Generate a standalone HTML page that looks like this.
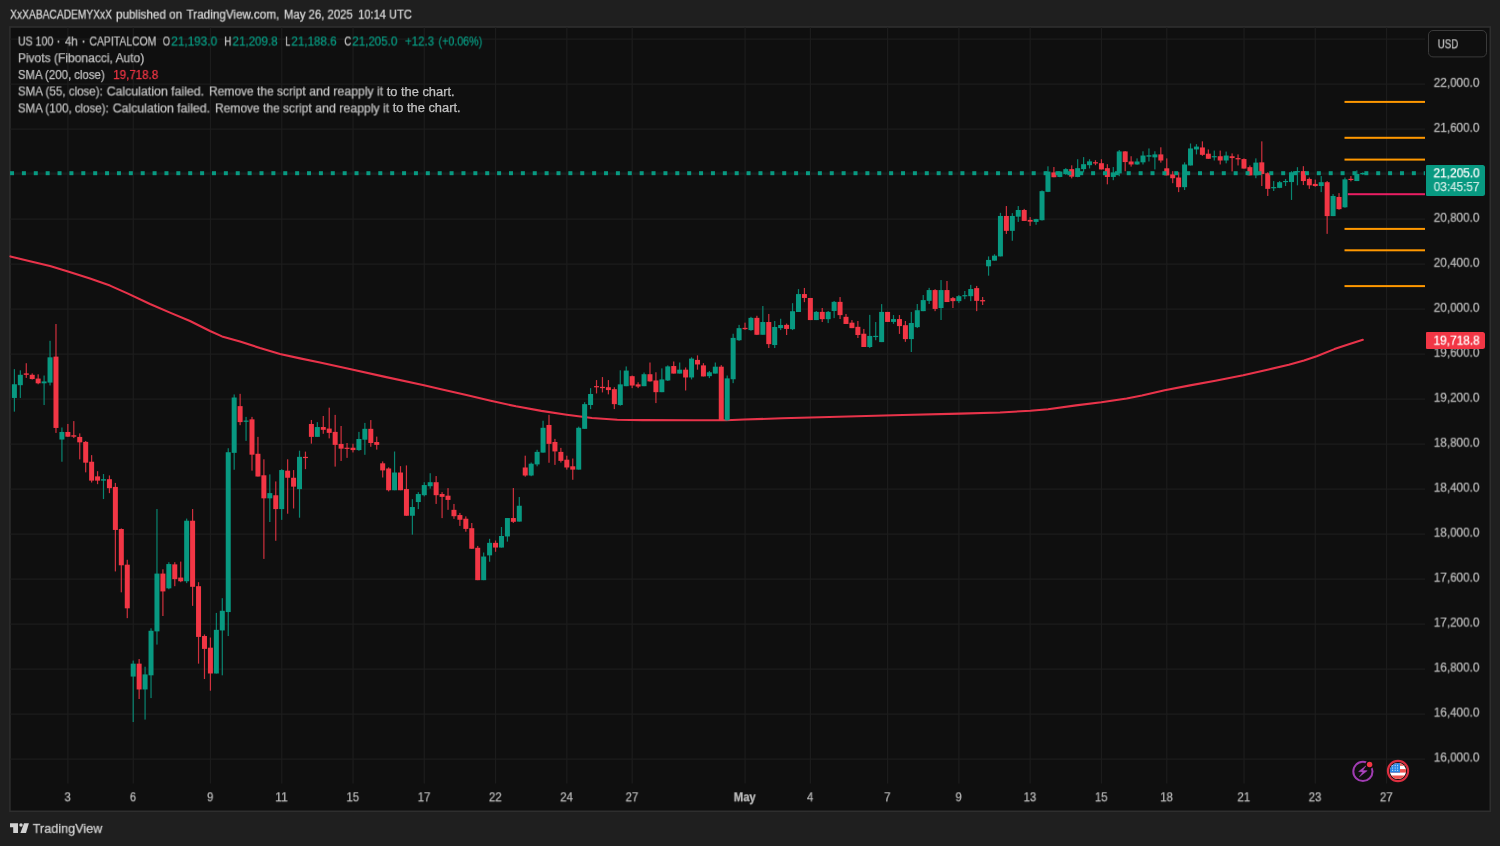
<!DOCTYPE html><html><head><meta charset="utf-8"><title>chart</title><style>
html,body{margin:0;padding:0}
body{width:1500px;height:846px;background:#1f1f1f;position:relative;overflow:hidden;font-family:"Liberation Sans",sans-serif;color:#c2c2c2;font-size:12.5px}
#txt{position:absolute;left:0;top:0;width:1500px;height:846px}
.t{position:absolute;white-space:nowrap;line-height:14px;height:14px;-webkit-text-stroke:0.25px;will-change:transform}
.g{color:#089981} .r{color:#f23645}
</style></head><body><svg width="1500" height="846" viewBox="0 0 1500 846" style="position:absolute;left:0;top:0">
<rect x="9.9" y="27.0" width="1480.3999999999999" height="784.3" fill="#0f0f0f" stroke="#2e2e2e" stroke-width="1.6"/>
<path d="M10.4 39.00H1425.0M10.4 84.00H1425.0M10.4 129.00H1425.0M10.4 174.00H1425.0M10.4 219.00H1425.0M10.4 264.00H1425.0M10.4 309.00H1425.0M10.4 354.00H1425.0M10.4 399.00H1425.0M10.4 444.00H1425.0M10.4 489.00H1425.0M10.4 534.00H1425.0M10.4 579.00H1425.0M10.4 624.00H1425.0M10.4 669.00H1425.0M10.4 714.00H1425.0M10.4 759.00H1425.0M67.90 27.5V783.5M133.24 27.5V783.5M210.46 27.5V783.5M281.74 27.5V783.5M353.02 27.5V783.5M424.30 27.5V783.5M495.58 27.5V783.5M566.86 27.5V783.5M632.20 27.5V783.5M745.06 27.5V783.5M810.40 27.5V783.5M887.62 27.5V783.5M958.90 27.5V783.5M1030.18 27.5V783.5M1101.46 27.5V783.5M1166.80 27.5V783.5M1244.02 27.5V783.5M1315.30 27.5V783.5M1386.58 27.5V783.5" stroke="#1c1c1c" stroke-width="1.25" fill="none"/>
<path d="M10.4 173.1H1425.0" stroke="#1c1c1c" stroke-width="1.2"/>
<rect x="1344.5" y="100.90" width="80.5" height="2" fill="#ff9800"/>
<rect x="1344.5" y="136.80" width="80.5" height="2" fill="#ff9800"/>
<rect x="1344.5" y="158.60" width="80.5" height="2" fill="#ff9800"/>
<rect x="1344.5" y="227.90" width="80.5" height="2" fill="#ff9800"/>
<rect x="1344.5" y="249.30" width="80.5" height="2" fill="#ff9800"/>
<rect x="1344.5" y="285.10" width="80.5" height="2" fill="#ff9800"/>
<rect x="1347.8" y="193.20" width="77.20000000000005" height="2" fill="#e91e63"/>
<polyline points="10.4,256.4 30.0,261.2 50.0,266.0 68.0,271.4 90.0,278.6 110.0,285.6 128.0,293.6 150.0,304.0 170.0,312.6 190.0,321.0 210.0,331.0 222.0,336.4 240.0,341.4 260.0,348.0 280.0,354.0 300.0,358.4 320.0,362.5 352.0,369.5 384.0,376.6 424.0,385.2 440.0,388.9 465.3,394.7 490.7,400.8 516.0,406.3 541.3,410.9 566.7,414.7 592.0,418.0 617.3,419.8 642.7,420.1 693.4,420.2 726.3,420.3 744.0,419.5 782.0,418.3 820.0,417.2 902.8,415.0 960.0,413.6 1000.0,412.5 1030.4,410.7 1048.1,409.2 1076.0,405.4 1101.3,402.3 1126.7,398.5 1141.9,395.5 1164.7,390.2 1190.0,385.4 1215.4,380.8 1243.2,375.2 1268.6,369.4 1288.8,364.8 1304.0,360.5 1316.7,356.2 1334.4,349.1 1349.6,344.1 1362.8,339.8" fill="none" stroke="#e8334a" stroke-width="2.1" stroke-linejoin="round" stroke-linecap="round"/>
<g fill="#089981" fill-opacity="0.85"><rect x="13.80" y="369.13" width="1.2" height="42.52"/><rect x="19.74" y="370.32" width="1.2" height="27.64"/><rect x="43.50" y="375.51" width="1.2" height="29.53"/><rect x="49.44" y="340.79" width="1.2" height="44.65"/><rect x="61.32" y="427.48" width="1.2" height="34.25"/><rect x="102.90" y="474.02" width="1.2" height="25.04"/><rect x="132.60" y="660.58" width="1.2" height="61.48"/><rect x="144.48" y="666.72" width="1.2" height="52.87"/><rect x="150.42" y="628.30" width="1.2" height="69.78"/><rect x="156.36" y="509.04" width="1.2" height="135.55"/><rect x="168.24" y="562.21" width="1.2" height="27.05"/><rect x="186.06" y="518.57" width="1.2" height="64.55"/><rect x="215.76" y="612.93" width="1.2" height="60.55"/><rect x="221.70" y="598.18" width="1.2" height="77.15"/><rect x="227.64" y="448.24" width="1.2" height="187.81"/><rect x="233.58" y="394.45" width="1.2" height="75.31"/><rect x="245.46" y="416.89" width="1.2" height="23.98"/><rect x="269.22" y="474.37" width="1.2" height="47.64"/><rect x="281.10" y="469.14" width="1.2" height="50.72"/><rect x="298.92" y="450.70" width="1.2" height="67.01"/><rect x="316.74" y="422.11" width="1.2" height="14.75"/><rect x="358.32" y="431.89" width="1.2" height="18.90"/><rect x="364.26" y="422.91" width="1.2" height="31.89"/><rect x="393.96" y="451.50" width="1.2" height="38.74"/><rect x="411.78" y="499.21" width="1.2" height="35.43"/><rect x="417.72" y="492.13" width="1.2" height="17.01"/><rect x="423.66" y="482.21" width="1.2" height="14.17"/><rect x="429.60" y="473.23" width="1.2" height="15.35"/><rect x="483.06" y="552.52" width="1.2" height="27.64"/><rect x="489.00" y="538.82" width="1.2" height="22.91"/><rect x="500.88" y="527.01" width="1.2" height="20.55"/><rect x="506.82" y="518.03" width="1.2" height="23.62"/><rect x="518.70" y="497.01" width="1.2" height="24.57"/><rect x="530.58" y="462.52" width="1.2" height="13.70"/><rect x="536.52" y="449.76" width="1.2" height="16.54"/><rect x="542.46" y="420.71" width="1.2" height="31.89"/><rect x="578.10" y="426.61" width="1.2" height="42.99"/><rect x="584.04" y="402.18" width="1.2" height="26.66"/><rect x="589.98" y="388.13" width="1.2" height="20.94"/><rect x="619.68" y="370.32" width="1.2" height="35.38"/><rect x="625.62" y="366.42" width="1.2" height="19.77"/><rect x="643.44" y="372.53" width="1.2" height="13.66"/><rect x="661.26" y="368.37" width="1.2" height="23.80"/><rect x="667.20" y="365.38" width="1.2" height="15.61"/><rect x="679.08" y="362.51" width="1.2" height="11.05"/><rect x="690.96" y="357.31" width="1.2" height="22.11"/><rect x="708.78" y="370.97" width="1.2" height="7.15"/><rect x="714.72" y="362.51" width="1.2" height="11.05"/><rect x="726.60" y="375.52" width="1.2" height="45.13"/><rect x="732.54" y="333.73" width="1.2" height="49.42"/><rect x="738.48" y="324.88" width="1.2" height="16.00"/><rect x="750.36" y="316.82" width="1.2" height="13.92"/><rect x="762.24" y="306.03" width="1.2" height="28.74"/><rect x="774.12" y="320.98" width="1.2" height="27.05"/><rect x="780.06" y="318.77" width="1.2" height="11.31"/><rect x="791.94" y="303.16" width="1.2" height="26.92"/><rect x="797.88" y="289.12" width="1.2" height="22.89"/><rect x="815.70" y="310.97" width="1.2" height="9.10"/><rect x="827.58" y="310.97" width="1.2" height="12.10"/><rect x="833.52" y="300.95" width="1.2" height="17.17"/><rect x="869.16" y="314.87" width="1.2" height="33.16"/><rect x="875.10" y="322.02" width="1.2" height="18.21"/><rect x="881.04" y="304.12" width="1.2" height="37.98"/><rect x="892.92" y="315.04" width="1.2" height="8.84"/><rect x="910.74" y="311.92" width="1.2" height="40.06"/><rect x="916.68" y="303.99" width="1.2" height="24.06"/><rect x="922.62" y="295.01" width="1.2" height="16.13"/><rect x="928.56" y="287.86" width="1.2" height="16.13"/><rect x="940.44" y="280.06" width="1.2" height="39.93"/><rect x="958.26" y="295.01" width="1.2" height="8.06"/><rect x="964.20" y="290.98" width="1.2" height="8.19"/><rect x="970.14" y="284.87" width="1.2" height="16.26"/><rect x="987.96" y="256.38" width="1.2" height="19.29"/><rect x="993.90" y="254.26" width="1.2" height="6.38"/><rect x="999.84" y="212.84" width="1.2" height="43.55"/><rect x="1011.72" y="213.12" width="1.2" height="27.66"/><rect x="1017.66" y="206.03" width="1.2" height="15.89"/><rect x="1035.48" y="218.79" width="1.2" height="5.96"/><rect x="1041.42" y="190.43" width="1.2" height="30.07"/><rect x="1047.36" y="166.31" width="1.2" height="25.82"/><rect x="1059.24" y="170.99" width="1.2" height="6.24"/><rect x="1065.18" y="168.16" width="1.2" height="6.67"/><rect x="1077.06" y="159.22" width="1.2" height="18.01"/><rect x="1083.00" y="157.09" width="1.2" height="15.32"/><rect x="1088.94" y="159.22" width="1.2" height="9.22"/><rect x="1112.70" y="167.02" width="1.2" height="13.19"/><rect x="1118.64" y="150.00" width="1.2" height="26.24"/><rect x="1136.46" y="158.37" width="1.2" height="6.38"/><rect x="1142.40" y="151.28" width="1.2" height="13.19"/><rect x="1148.34" y="148.44" width="1.2" height="13.05"/><rect x="1154.28" y="151.28" width="1.2" height="18.16"/><rect x="1183.98" y="162.34" width="1.2" height="27.66"/><rect x="1189.92" y="143.48" width="1.2" height="21.99"/><rect x="1195.86" y="144.18" width="1.2" height="10.21"/><rect x="1213.68" y="150.57" width="1.2" height="9.93"/><rect x="1225.56" y="151.56" width="1.2" height="11.77"/><rect x="1255.26" y="158.37" width="1.2" height="19.86"/><rect x="1273.08" y="181.06" width="1.2" height="9.93"/><rect x="1279.02" y="181.06" width="1.2" height="7.09"/><rect x="1284.96" y="178.94" width="1.2" height="7.09"/><rect x="1290.90" y="171.13" width="1.2" height="28.79"/><rect x="1296.84" y="167.16" width="1.2" height="18.16"/><rect x="1320.60" y="176.10" width="1.2" height="16.03"/><rect x="1332.48" y="194.11" width="1.2" height="21.99"/><rect x="1344.36" y="177.52" width="1.2" height="30.21"/><rect x="1356.24" y="170.43" width="1.2" height="10.64"/><rect x="1362.18" y="172.40" width="1.2" height="2.40"/></g><g fill="#f23645" fill-opacity="0.85"><rect x="25.68" y="363.23" width="1.2" height="14.65"/><rect x="31.62" y="373.39" width="1.2" height="6.14"/><rect x="37.56" y="374.33" width="1.2" height="9.92"/><rect x="55.38" y="324.02" width="1.2" height="108.90"/><rect x="67.26" y="423.94" width="1.2" height="12.99"/><rect x="73.20" y="421.10" width="1.2" height="17.01"/><rect x="79.14" y="433.39" width="1.2" height="25.98"/><rect x="85.08" y="440.95" width="1.2" height="31.42"/><rect x="91.02" y="455.12" width="1.2" height="27.40"/><rect x="96.96" y="471.18" width="1.2" height="12.99"/><rect x="108.84" y="475.43" width="1.2" height="17.72"/><rect x="114.78" y="482.91" width="1.2" height="88.53"/><rect x="120.72" y="528.40" width="1.2" height="63.94"/><rect x="126.66" y="559.76" width="1.2" height="58.40"/><rect x="138.54" y="659.04" width="1.2" height="39.96"/><rect x="162.30" y="569.28" width="1.2" height="46.72"/><rect x="174.18" y="562.21" width="1.2" height="23.98"/><rect x="180.12" y="561.60" width="1.2" height="20.59"/><rect x="192.00" y="509.04" width="1.2" height="96.82"/><rect x="197.94" y="582.19" width="1.2" height="81.46"/><rect x="203.88" y="634.45" width="1.2" height="44.57"/><rect x="209.82" y="637.52" width="1.2" height="53.18"/><rect x="239.52" y="393.83" width="1.2" height="31.35"/><rect x="251.40" y="416.89" width="1.2" height="53.79"/><rect x="257.34" y="436.87" width="1.2" height="39.65"/><rect x="263.28" y="459.30" width="1.2" height="99.59"/><rect x="275.16" y="481.44" width="1.2" height="59.32"/><rect x="287.04" y="459.30" width="1.2" height="54.41"/><rect x="292.98" y="470.06" width="1.2" height="38.42"/><rect x="304.86" y="451.62" width="1.2" height="17.52"/><rect x="310.80" y="419.96" width="1.2" height="23.67"/><rect x="322.68" y="415.96" width="1.2" height="17.83"/><rect x="328.62" y="407.66" width="1.2" height="30.74"/><rect x="334.56" y="414.88" width="1.2" height="51.73"/><rect x="340.50" y="425.98" width="1.2" height="34.96"/><rect x="346.44" y="442.99" width="1.2" height="14.88"/><rect x="352.38" y="443.70" width="1.2" height="8.74"/><rect x="370.20" y="420.08" width="1.2" height="26.69"/><rect x="376.14" y="436.61" width="1.2" height="12.99"/><rect x="382.08" y="461.42" width="1.2" height="16.06"/><rect x="388.02" y="467.32" width="1.2" height="24.09"/><rect x="399.90" y="466.14" width="1.2" height="24.09"/><rect x="405.84" y="465.43" width="1.2" height="50.32"/><rect x="435.54" y="476.06" width="1.2" height="27.87"/><rect x="441.48" y="492.13" width="1.2" height="25.98"/><rect x="447.42" y="488.11" width="1.2" height="21.73"/><rect x="453.36" y="503.94" width="1.2" height="14.88"/><rect x="459.30" y="512.91" width="1.2" height="12.99"/><rect x="465.24" y="516.38" width="1.2" height="15.35"/><rect x="471.18" y="522.99" width="1.2" height="25.75"/><rect x="477.12" y="545.91" width="1.2" height="34.25"/><rect x="494.94" y="540.47" width="1.2" height="11.34"/><rect x="512.76" y="488.03" width="1.2" height="34.96"/><rect x="524.64" y="455.67" width="1.2" height="21.02"/><rect x="548.40" y="414.80" width="1.2" height="47.95"/><rect x="554.34" y="438.90" width="1.2" height="25.98"/><rect x="560.28" y="447.87" width="1.2" height="14.65"/><rect x="566.22" y="455.67" width="1.2" height="13.94"/><rect x="572.16" y="458.50" width="1.2" height="21.26"/><rect x="595.92" y="380.07" width="1.2" height="13.40"/><rect x="601.86" y="377.08" width="1.2" height="15.35"/><rect x="607.80" y="380.07" width="1.2" height="14.31"/><rect x="613.74" y="387.22" width="1.2" height="21.85"/><rect x="631.56" y="375.52" width="1.2" height="12.62"/><rect x="637.50" y="382.28" width="1.2" height="5.85"/><rect x="649.38" y="362.51" width="1.2" height="19.12"/><rect x="655.32" y="372.27" width="1.2" height="30.82"/><rect x="673.14" y="361.47" width="1.2" height="12.10"/><rect x="685.02" y="367.46" width="1.2" height="23.02"/><rect x="696.90" y="355.36" width="1.2" height="14.31"/><rect x="702.84" y="363.16" width="1.2" height="13.27"/><rect x="720.66" y="365.12" width="1.2" height="55.27"/><rect x="744.42" y="322.67" width="1.2" height="7.15"/><rect x="756.30" y="315.78" width="1.2" height="19.25"/><rect x="768.18" y="313.96" width="1.2" height="34.07"/><rect x="786.00" y="323.58" width="1.2" height="11.44"/><rect x="803.82" y="287.95" width="1.2" height="14.18"/><rect x="809.76" y="297.96" width="1.2" height="22.11"/><rect x="821.64" y="307.98" width="1.2" height="14.05"/><rect x="839.46" y="297.05" width="1.2" height="21.98"/><rect x="845.40" y="313.96" width="1.2" height="10.01"/><rect x="851.34" y="320.07" width="1.2" height="8.06"/><rect x="857.28" y="320.98" width="1.2" height="17.04"/><rect x="863.22" y="328.92" width="1.2" height="18.08"/><rect x="886.98" y="311.92" width="1.2" height="10.01"/><rect x="898.86" y="315.04" width="1.2" height="18.86"/><rect x="904.80" y="321.02" width="1.2" height="20.81"/><rect x="934.50" y="289.16" width="1.2" height="21.98"/><rect x="946.38" y="280.97" width="1.2" height="21.07"/><rect x="952.32" y="296.96" width="1.2" height="11.05"/><rect x="976.08" y="285.91" width="1.2" height="25.23"/><rect x="982.02" y="296.96" width="1.2" height="8.06"/><rect x="1005.78" y="206.03" width="1.2" height="27.94"/><rect x="1023.60" y="208.87" width="1.2" height="12.06"/><rect x="1029.54" y="217.09" width="1.2" height="8.79"/><rect x="1053.30" y="167.02" width="1.2" height="10.21"/><rect x="1071.12" y="165.32" width="1.2" height="13.05"/><rect x="1094.88" y="160.21" width="1.2" height="4.96"/><rect x="1100.82" y="159.22" width="1.2" height="10.21"/><rect x="1106.76" y="164.18" width="1.2" height="20.14"/><rect x="1124.58" y="151.13" width="1.2" height="20.14"/><rect x="1130.52" y="156.24" width="1.2" height="10.35"/><rect x="1160.22" y="147.30" width="1.2" height="15.32"/><rect x="1166.16" y="158.37" width="1.2" height="17.02"/><rect x="1172.10" y="171.13" width="1.2" height="12.06"/><rect x="1178.04" y="172.27" width="1.2" height="19.86"/><rect x="1201.80" y="141.35" width="1.2" height="14.47"/><rect x="1207.74" y="149.43" width="1.2" height="9.36"/><rect x="1219.62" y="150.57" width="1.2" height="13.90"/><rect x="1231.50" y="153.40" width="1.2" height="18.01"/><rect x="1237.44" y="154.40" width="1.2" height="11.06"/><rect x="1243.38" y="158.37" width="1.2" height="10.21"/><rect x="1249.32" y="165.46" width="1.2" height="9.93"/><rect x="1261.20" y="141.35" width="1.2" height="44.68"/><rect x="1267.14" y="172.27" width="1.2" height="23.69"/><rect x="1302.78" y="166.17" width="1.2" height="18.87"/><rect x="1308.72" y="177.52" width="1.2" height="11.35"/><rect x="1314.66" y="179.65" width="1.2" height="7.09"/><rect x="1326.54" y="181.06" width="1.2" height="52.77"/><rect x="1338.42" y="193.12" width="1.2" height="16.60"/><rect x="1350.30" y="176.10" width="1.2" height="5.25"/></g>
<g fill="#089981"><rect x="11.90" y="384.25" width="5" height="13.70"/><rect x="17.84" y="374.80" width="5" height="10.39"/><rect x="41.60" y="381.42" width="5" height="1.89"/><rect x="47.54" y="357.32" width="5" height="25.28"/><rect x="59.42" y="431.97" width="5" height="7.56"/><rect x="101.00" y="479.21" width="5" height="1.42"/><rect x="130.70" y="663.65" width="5" height="12.91"/><rect x="142.58" y="674.41" width="5" height="15.06"/><rect x="148.52" y="630.76" width="5" height="44.57"/><rect x="154.46" y="573.59" width="5" height="57.79"/><rect x="166.34" y="564.06" width="5" height="24.28"/><rect x="184.16" y="520.72" width="5" height="60.55"/><rect x="213.86" y="629.84" width="5" height="43.65"/><rect x="219.80" y="610.78" width="5" height="19.67"/><rect x="225.74" y="452.23" width="5" height="159.84"/><rect x="231.68" y="397.52" width="5" height="55.33"/><rect x="243.56" y="420.57" width="5" height="1.23"/><rect x="267.32" y="493.12" width="5" height="5.23"/><rect x="279.20" y="470.06" width="5" height="39.04"/><rect x="297.02" y="456.85" width="5" height="32.27"/><rect x="314.84" y="427.03" width="5" height="9.84"/><rect x="356.42" y="438.98" width="5" height="11.10"/><rect x="362.36" y="428.82" width="5" height="10.87"/><rect x="392.06" y="472.52" width="5" height="17.72"/><rect x="409.88" y="507.01" width="5" height="8.74"/><rect x="415.82" y="494.02" width="5" height="8.03"/><rect x="421.76" y="485.04" width="5" height="10.16"/><rect x="427.70" y="482.21" width="5" height="4.02"/><rect x="481.16" y="556.54" width="5" height="23.62"/><rect x="487.10" y="542.84" width="5" height="12.52"/><rect x="498.98" y="535.99" width="5" height="11.57"/><rect x="504.92" y="518.03" width="5" height="18.43"/><rect x="516.80" y="505.75" width="5" height="15.83"/><rect x="528.68" y="463.70" width="5" height="11.81"/><rect x="534.62" y="451.89" width="5" height="12.52"/><rect x="540.56" y="427.80" width="5" height="24.80"/><rect x="576.20" y="427.80" width="5" height="41.81"/><rect x="582.14" y="404.13" width="5" height="24.71"/><rect x="588.08" y="393.99" width="5" height="11.05"/><rect x="617.78" y="384.36" width="5" height="20.68"/><rect x="623.72" y="370.58" width="5" height="15.61"/><rect x="641.54" y="374.22" width="5" height="11.97"/><rect x="659.36" y="379.42" width="5" height="12.75"/><rect x="665.30" y="366.42" width="5" height="14.05"/><rect x="677.18" y="369.67" width="5" height="3.90"/><rect x="689.06" y="358.61" width="5" height="18.86"/><rect x="706.88" y="372.27" width="5" height="3.90"/><rect x="712.82" y="366.68" width="5" height="6.89"/><rect x="724.70" y="378.38" width="5" height="42.01"/><rect x="730.64" y="337.89" width="5" height="41.36"/><rect x="736.58" y="328.13" width="5" height="12.10"/><rect x="748.46" y="317.86" width="5" height="12.23"/><rect x="760.34" y="322.02" width="5" height="12.75"/><rect x="772.22" y="326.96" width="5" height="18.08"/><rect x="778.16" y="325.01" width="5" height="3.12"/><rect x="790.04" y="311.23" width="5" height="17.95"/><rect x="795.98" y="294.06" width="5" height="17.95"/><rect x="813.80" y="311.88" width="5" height="8.19"/><rect x="825.68" y="311.88" width="5" height="7.28"/><rect x="831.62" y="301.86" width="5" height="9.10"/><rect x="867.26" y="335.94" width="5" height="11.05"/><rect x="873.20" y="335.86" width="5" height="1.20"/><rect x="879.14" y="311.92" width="5" height="30.17"/><rect x="891.02" y="319.07" width="5" height="2.86"/><rect x="908.84" y="322.98" width="5" height="16.13"/><rect x="914.78" y="310.23" width="5" height="16.91"/><rect x="920.72" y="300.09" width="5" height="11.05"/><rect x="926.66" y="290.07" width="5" height="10.79"/><rect x="938.54" y="290.07" width="5" height="17.95"/><rect x="956.36" y="296.18" width="5" height="4.94"/><rect x="962.30" y="295.13" width="5" height="1.20"/><rect x="968.24" y="289.03" width="5" height="7.15"/><rect x="986.06" y="259.93" width="5" height="6.38"/><rect x="992.00" y="255.67" width="5" height="4.96"/><rect x="997.94" y="215.96" width="5" height="40.43"/><rect x="1009.82" y="215.96" width="5" height="14.89"/><rect x="1015.76" y="210.00" width="5" height="6.67"/><rect x="1033.58" y="219.08" width="5" height="2.84"/><rect x="1039.52" y="191.13" width="5" height="29.08"/><rect x="1045.46" y="171.56" width="5" height="20.28"/><rect x="1057.34" y="171.56" width="5" height="5.39"/><rect x="1063.28" y="169.15" width="5" height="4.96"/><rect x="1075.16" y="168.16" width="5" height="8.79"/><rect x="1081.10" y="164.18" width="5" height="4.96"/><rect x="1087.04" y="161.35" width="5" height="3.83"/><rect x="1110.80" y="172.41" width="5" height="4.54"/><rect x="1116.74" y="151.42" width="5" height="21.99"/><rect x="1134.56" y="161.49" width="5" height="2.98"/><rect x="1140.50" y="155.53" width="5" height="6.81"/><rect x="1146.44" y="155.25" width="5" height="1.42"/><rect x="1152.38" y="154.40" width="5" height="2.98"/><rect x="1182.08" y="164.47" width="5" height="22.70"/><rect x="1188.02" y="148.44" width="5" height="17.02"/><rect x="1193.96" y="146.60" width="5" height="2.84"/><rect x="1211.78" y="156.14" width="5" height="1.20"/><rect x="1223.66" y="155.53" width="5" height="4.96"/><rect x="1253.36" y="162.62" width="5" height="12.77"/><rect x="1271.18" y="187.06" width="5" height="1.20"/><rect x="1277.12" y="182.20" width="5" height="5.67"/><rect x="1283.06" y="180.96" width="5" height="1.20"/><rect x="1289.00" y="172.27" width="5" height="9.79"/><rect x="1294.94" y="171.10" width="5" height="1.20"/><rect x="1318.70" y="182.20" width="5" height="3.83"/><rect x="1330.58" y="195.96" width="5" height="20.14"/><rect x="1342.46" y="179.36" width="5" height="27.94"/><rect x="1354.34" y="173.97" width="5" height="7.09"/><rect x="1360.28" y="173.00" width="5" height="1.30"/></g><g fill="#f23645"><rect x="23.78" y="373.39" width="5" height="1.42"/><rect x="29.72" y="374.80" width="5" height="4.25"/><rect x="35.66" y="378.58" width="5" height="4.72"/><rect x="53.48" y="356.61" width="5" height="71.34"/><rect x="65.36" y="431.97" width="5" height="4.72"/><rect x="71.30" y="435.28" width="5" height="1.42"/><rect x="77.24" y="436.93" width="5" height="5.43"/><rect x="83.18" y="441.89" width="5" height="20.79"/><rect x="89.12" y="461.73" width="5" height="18.90"/><rect x="95.06" y="476.38" width="5" height="4.25"/><rect x="106.94" y="479.21" width="5" height="8.98"/><rect x="112.88" y="486.91" width="5" height="43.03"/><rect x="118.82" y="529.02" width="5" height="36.27"/><rect x="124.76" y="564.67" width="5" height="43.65"/><rect x="136.64" y="663.65" width="5" height="25.82"/><rect x="160.40" y="573.59" width="5" height="17.83"/><rect x="172.28" y="564.37" width="5" height="14.75"/><rect x="178.22" y="577.58" width="5" height="3.69"/><rect x="190.10" y="520.72" width="5" height="66.09"/><rect x="196.04" y="586.19" width="5" height="50.72"/><rect x="201.98" y="635.99" width="5" height="12.91"/><rect x="207.92" y="647.67" width="5" height="25.82"/><rect x="237.62" y="406.13" width="5" height="15.98"/><rect x="249.50" y="419.34" width="5" height="35.35"/><rect x="255.44" y="453.77" width="5" height="22.75"/><rect x="261.38" y="475.29" width="5" height="23.05"/><rect x="273.26" y="495.27" width="5" height="13.83"/><rect x="285.14" y="470.68" width="5" height="7.07"/><rect x="291.08" y="477.75" width="5" height="8.91"/><rect x="302.96" y="456.85" width="5" height="1.23"/><rect x="308.90" y="423.96" width="5" height="12.91"/><rect x="320.78" y="427.03" width="5" height="2.77"/><rect x="326.72" y="428.57" width="5" height="4.30"/><rect x="332.66" y="431.89" width="5" height="12.99"/><rect x="338.60" y="443.94" width="5" height="4.72"/><rect x="344.54" y="447.71" width="5" height="1.20"/><rect x="350.48" y="447.72" width="5" height="2.36"/><rect x="368.30" y="428.82" width="5" height="14.17"/><rect x="374.24" y="442.05" width="5" height="2.83"/><rect x="380.18" y="463.31" width="5" height="7.09"/><rect x="386.12" y="468.50" width="5" height="21.73"/><rect x="398.00" y="472.52" width="5" height="17.72"/><rect x="403.94" y="489.06" width="5" height="26.69"/><rect x="433.64" y="482.21" width="5" height="12.99"/><rect x="439.58" y="494.02" width="5" height="2.83"/><rect x="445.52" y="495.67" width="5" height="4.25"/><rect x="451.46" y="509.84" width="5" height="6.38"/><rect x="457.40" y="515.04" width="5" height="4.72"/><rect x="463.34" y="518.74" width="5" height="10.16"/><rect x="469.28" y="528.19" width="5" height="20.55"/><rect x="475.22" y="547.80" width="5" height="32.36"/><rect x="493.04" y="542.84" width="5" height="4.72"/><rect x="510.86" y="518.03" width="5" height="3.78"/><rect x="522.74" y="467.48" width="5" height="8.03"/><rect x="546.50" y="424.96" width="5" height="18.90"/><rect x="552.44" y="441.97" width="5" height="9.45"/><rect x="558.38" y="451.89" width="5" height="8.98"/><rect x="564.32" y="459.69" width="5" height="7.80"/><rect x="570.26" y="466.30" width="5" height="3.31"/><rect x="594.02" y="386.10" width="5" height="1.20"/><rect x="599.96" y="386.83" width="5" height="1.30"/><rect x="605.90" y="387.22" width="5" height="2.86"/><rect x="611.84" y="389.18" width="5" height="14.96"/><rect x="629.66" y="376.17" width="5" height="9.36"/><rect x="635.60" y="384.36" width="5" height="2.21"/><rect x="647.48" y="374.22" width="5" height="7.15"/><rect x="653.42" y="380.46" width="5" height="11.71"/><rect x="671.24" y="366.03" width="5" height="7.54"/><rect x="683.12" y="369.67" width="5" height="7.80"/><rect x="695.00" y="359.91" width="5" height="4.55"/><rect x="700.94" y="365.38" width="5" height="11.05"/><rect x="718.76" y="366.68" width="5" height="53.71"/><rect x="742.52" y="327.87" width="5" height="1.30"/><rect x="754.40" y="317.86" width="5" height="16.91"/><rect x="766.28" y="322.02" width="5" height="22.11"/><rect x="784.10" y="324.88" width="5" height="4.03"/><rect x="801.92" y="294.06" width="5" height="3.90"/><rect x="807.86" y="297.96" width="5" height="22.11"/><rect x="819.74" y="311.88" width="5" height="7.28"/><rect x="837.56" y="301.86" width="5" height="13.27"/><rect x="843.50" y="316.82" width="5" height="7.15"/><rect x="849.44" y="322.67" width="5" height="5.46"/><rect x="855.38" y="326.83" width="5" height="8.19"/><rect x="861.32" y="333.73" width="5" height="13.27"/><rect x="885.08" y="311.92" width="5" height="10.01"/><rect x="896.96" y="319.07" width="5" height="7.02"/><rect x="902.90" y="325.19" width="5" height="13.92"/><rect x="932.60" y="290.07" width="5" height="18.86"/><rect x="944.48" y="290.07" width="5" height="11.97"/><rect x="950.42" y="298.13" width="5" height="2.99"/><rect x="974.18" y="288.12" width="5" height="12.75"/><rect x="980.12" y="300.09" width="5" height="1.30"/><rect x="1003.88" y="215.96" width="5" height="14.89"/><rect x="1021.70" y="210.00" width="5" height="10.92"/><rect x="1027.64" y="219.93" width="5" height="1.70"/><rect x="1051.40" y="172.41" width="5" height="4.82"/><rect x="1069.22" y="169.15" width="5" height="7.52"/><rect x="1092.98" y="162.24" width="5" height="1.20"/><rect x="1098.92" y="163.19" width="5" height="6.24"/><rect x="1104.86" y="168.16" width="5" height="8.79"/><rect x="1122.68" y="151.42" width="5" height="10.64"/><rect x="1128.62" y="161.49" width="5" height="2.98"/><rect x="1158.32" y="154.40" width="5" height="6.10"/><rect x="1164.26" y="168.30" width="5" height="7.09"/><rect x="1170.20" y="174.40" width="5" height="3.83"/><rect x="1176.14" y="177.52" width="5" height="9.65"/><rect x="1199.90" y="147.45" width="5" height="7.38"/><rect x="1205.84" y="153.69" width="5" height="5.11"/><rect x="1217.72" y="156.24" width="5" height="4.26"/><rect x="1229.60" y="156.24" width="5" height="1.84"/><rect x="1235.54" y="158.09" width="5" height="1.28"/><rect x="1241.48" y="159.08" width="5" height="9.50"/><rect x="1247.42" y="167.16" width="5" height="8.23"/><rect x="1259.30" y="162.34" width="5" height="11.63"/><rect x="1265.24" y="173.26" width="5" height="15.60"/><rect x="1300.88" y="171.13" width="5" height="9.93"/><rect x="1306.82" y="178.94" width="5" height="6.38"/><rect x="1312.76" y="183.90" width="5" height="2.13"/><rect x="1324.64" y="182.20" width="5" height="33.90"/><rect x="1336.52" y="196.95" width="5" height="12.20"/><rect x="1348.40" y="178.83" width="5" height="1.20"/></g>
<g fill="#089981"><rect x="10.02" y="171.20" width="4.00" height="4"/><rect x="21.90" y="171.20" width="4.00" height="4"/><rect x="33.78" y="171.20" width="4.00" height="4"/><rect x="45.66" y="171.20" width="4.00" height="4"/><rect x="57.54" y="171.20" width="4.00" height="4"/><rect x="69.42" y="171.20" width="4.00" height="4"/><rect x="81.30" y="171.20" width="4.00" height="4"/><rect x="93.18" y="171.20" width="4.00" height="4"/><rect x="105.06" y="171.20" width="4.00" height="4"/><rect x="116.94" y="171.20" width="4.00" height="4"/><rect x="128.82" y="171.20" width="4.00" height="4"/><rect x="140.70" y="171.20" width="4.00" height="4"/><rect x="152.58" y="171.20" width="4.00" height="4"/><rect x="164.46" y="171.20" width="4.00" height="4"/><rect x="176.34" y="171.20" width="4.00" height="4"/><rect x="188.22" y="171.20" width="4.00" height="4"/><rect x="200.10" y="171.20" width="4.00" height="4"/><rect x="211.98" y="171.20" width="4.00" height="4"/><rect x="223.86" y="171.20" width="4.00" height="4"/><rect x="235.74" y="171.20" width="4.00" height="4"/><rect x="247.62" y="171.20" width="4.00" height="4"/><rect x="259.50" y="171.20" width="4.00" height="4"/><rect x="271.38" y="171.20" width="4.00" height="4"/><rect x="283.26" y="171.20" width="4.00" height="4"/><rect x="295.14" y="171.20" width="4.00" height="4"/><rect x="307.02" y="171.20" width="4.00" height="4"/><rect x="318.90" y="171.20" width="4.00" height="4"/><rect x="330.78" y="171.20" width="4.00" height="4"/><rect x="342.66" y="171.20" width="4.00" height="4"/><rect x="354.54" y="171.20" width="4.00" height="4"/><rect x="366.42" y="171.20" width="4.00" height="4"/><rect x="378.30" y="171.20" width="4.00" height="4"/><rect x="390.18" y="171.20" width="4.00" height="4"/><rect x="402.06" y="171.20" width="4.00" height="4"/><rect x="413.94" y="171.20" width="4.00" height="4"/><rect x="425.82" y="171.20" width="4.00" height="4"/><rect x="437.70" y="171.20" width="4.00" height="4"/><rect x="449.58" y="171.20" width="4.00" height="4"/><rect x="461.46" y="171.20" width="4.00" height="4"/><rect x="473.34" y="171.20" width="4.00" height="4"/><rect x="485.22" y="171.20" width="4.00" height="4"/><rect x="497.10" y="171.20" width="4.00" height="4"/><rect x="508.98" y="171.20" width="4.00" height="4"/><rect x="520.86" y="171.20" width="4.00" height="4"/><rect x="532.74" y="171.20" width="4.00" height="4"/><rect x="544.62" y="171.20" width="4.00" height="4"/><rect x="556.50" y="171.20" width="4.00" height="4"/><rect x="568.38" y="171.20" width="4.00" height="4"/><rect x="580.26" y="171.20" width="4.00" height="4"/><rect x="592.14" y="171.20" width="4.00" height="4"/><rect x="604.02" y="171.20" width="4.00" height="4"/><rect x="615.90" y="171.20" width="4.00" height="4"/><rect x="627.78" y="171.20" width="4.00" height="4"/><rect x="639.66" y="171.20" width="4.00" height="4"/><rect x="651.54" y="171.20" width="4.00" height="4"/><rect x="663.42" y="171.20" width="4.00" height="4"/><rect x="675.30" y="171.20" width="4.00" height="4"/><rect x="687.18" y="171.20" width="4.00" height="4"/><rect x="699.06" y="171.20" width="4.00" height="4"/><rect x="710.94" y="171.20" width="4.00" height="4"/><rect x="722.82" y="171.20" width="4.00" height="4"/><rect x="734.70" y="171.20" width="4.00" height="4"/><rect x="746.58" y="171.20" width="4.00" height="4"/><rect x="758.46" y="171.20" width="4.00" height="4"/><rect x="770.34" y="171.20" width="4.00" height="4"/><rect x="782.22" y="171.20" width="4.00" height="4"/><rect x="794.10" y="171.20" width="4.00" height="4"/><rect x="805.98" y="171.20" width="4.00" height="4"/><rect x="817.86" y="171.20" width="4.00" height="4"/><rect x="829.74" y="171.20" width="4.00" height="4"/><rect x="841.62" y="171.20" width="4.00" height="4"/><rect x="853.50" y="171.20" width="4.00" height="4"/><rect x="865.38" y="171.20" width="4.00" height="4"/><rect x="877.26" y="171.20" width="4.00" height="4"/><rect x="889.14" y="171.20" width="4.00" height="4"/><rect x="901.02" y="171.20" width="4.00" height="4"/><rect x="912.90" y="171.20" width="4.00" height="4"/><rect x="924.78" y="171.20" width="4.00" height="4"/><rect x="936.66" y="171.20" width="4.00" height="4"/><rect x="948.54" y="171.20" width="4.00" height="4"/><rect x="960.42" y="171.20" width="4.00" height="4"/><rect x="972.30" y="171.20" width="4.00" height="4"/><rect x="984.18" y="171.20" width="4.00" height="4"/><rect x="996.06" y="171.20" width="4.00" height="4"/><rect x="1007.94" y="171.20" width="4.00" height="4"/><rect x="1019.82" y="171.20" width="4.00" height="4"/><rect x="1031.70" y="171.20" width="4.00" height="4"/><rect x="1043.58" y="171.20" width="4.00" height="4"/><rect x="1055.46" y="171.20" width="4.00" height="4"/><rect x="1067.34" y="171.20" width="4.00" height="4"/><rect x="1079.22" y="171.20" width="4.00" height="4"/><rect x="1091.10" y="171.20" width="4.00" height="4"/><rect x="1102.98" y="171.20" width="4.00" height="4"/><rect x="1114.86" y="171.20" width="4.00" height="4"/><rect x="1126.74" y="171.20" width="4.00" height="4"/><rect x="1138.62" y="171.20" width="4.00" height="4"/><rect x="1150.50" y="171.20" width="4.00" height="4"/><rect x="1162.38" y="171.20" width="4.00" height="4"/><rect x="1174.26" y="171.20" width="4.00" height="4"/><rect x="1186.14" y="171.20" width="4.00" height="4"/><rect x="1198.02" y="171.20" width="4.00" height="4"/><rect x="1209.90" y="171.20" width="4.00" height="4"/><rect x="1221.78" y="171.20" width="4.00" height="4"/><rect x="1233.66" y="171.20" width="4.00" height="4"/><rect x="1245.54" y="171.20" width="4.00" height="4"/><rect x="1257.42" y="171.20" width="4.00" height="4"/><rect x="1269.30" y="171.20" width="4.00" height="4"/><rect x="1281.18" y="171.20" width="4.00" height="4"/><rect x="1293.06" y="171.20" width="4.00" height="4"/><rect x="1304.94" y="171.20" width="4.00" height="4"/><rect x="1316.82" y="171.20" width="4.00" height="4"/><rect x="1328.70" y="171.20" width="4.00" height="4"/><rect x="1340.58" y="171.20" width="4.00" height="4"/><rect x="1352.46" y="171.20" width="4.00" height="4"/><rect x="1364.34" y="171.20" width="4.00" height="4"/><rect x="1376.22" y="171.20" width="4.00" height="4"/><rect x="1388.10" y="171.20" width="4.00" height="4"/><rect x="1399.98" y="171.20" width="4.00" height="4"/><rect x="1411.86" y="171.20" width="4.00" height="4"/><rect x="1423.74" y="171.20" width="1.26" height="4"/></g>
<rect x="1428.5" y="30.5" width="58" height="26.4" rx="4.5" fill="none" stroke="#3a3a3a" stroke-width="1"/>
<g transform="translate(1362.9,771.4)"><circle r="9.6" fill="none" stroke="#a03cb2" stroke-width="2"/><circle cx="6.7" cy="-6.9" r="4.3" fill="#0f0f0f"/><circle cx="6.7" cy="-6.9" r="2.75" fill="#f23645"/><path d="M2.9 -5.5L-4.3 0.2L0 0.5L-3.5 5.4L4.3 -0.7L-0.2 -1Z" fill="#ad45c0" stroke="#ad45c0" stroke-width="0.5" stroke-linejoin="round"/></g>
<g transform="translate(1398,771)"><circle r="10.1" fill="none" stroke="#dc2f40" stroke-width="2.1"/><clipPath id="fc"><circle r="8.1"/></clipPath><g clip-path="url(#fc)"><rect x="-9" y="-9" width="18" height="18" fill="#fff"/><rect x="-9" y="-9" width="18" height="3.9" fill="#ef6b64"/><rect x="-9" y="-1.9" width="18" height="3.5" fill="#ef5350"/><rect x="-9" y="4.5" width="18" height="4.5" fill="#ef5350"/><rect x="-9" y="-9" width="11" height="10.6" fill="#2a87e4"/><g fill="#d9ecfb"><rect x="-5.8" y="-5.9" width="0.9" height="0.9"/><rect x="-3.3" y="-5.9" width="0.9" height="0.9"/><rect x="-0.8" y="-5.9" width="0.9" height="0.9"/><rect x="-5.8" y="-3.4" width="0.9" height="0.9"/><rect x="-3.3" y="-3.4" width="0.9" height="0.9"/><rect x="-0.8" y="-3.4" width="0.9" height="0.9"/><rect x="-5.8" y="-0.9" width="0.9" height="0.9"/><rect x="-3.3" y="-0.9" width="0.9" height="0.9"/><rect x="-0.8" y="-0.9" width="0.9" height="0.9"/><rect x="-5.6" y="-7" width="0.5" height="7" opacity="0.35"/><rect x="-3.1" y="-7" width="0.5" height="7" opacity="0.35"/><rect x="-0.6" y="-7" width="0.5" height="7" opacity="0.35"/></g></g></g>
<g fill="#d2d2d2"><path d="M10 823.2h8v9.8h-4.8v-5.8H10z"/><circle cx="21" cy="825" r="1.75"/><path d="M24 823.2h4.9l-2.9 9.8h-5.6z"/></g>
</svg><div id="txt"><div class="t" id="t0" style="left:10px;top:7px;font-size:12.0px;transform-origin:0 50%;transform:translate(0.20px,0.60px) scaleX(0.8528);color:#dadada">XxXABACADEMYXxX</div><div class="t" id="t1" style="left:116px;top:7px;font-size:12.0px;transform-origin:0 50%;transform:translate(0.00px,0.60px) scaleX(0.9712);color:#dadada">published on</div><div class="t" id="t2" style="left:186px;top:7px;font-size:12.0px;transform-origin:0 50%;transform:translate(0.40px,0.60px) scaleX(0.9797);color:#dadada">TradingView.com,</div><div class="t" id="t3" style="left:283px;top:7px;font-size:12.0px;transform-origin:0 50%;transform:translate(0.90px,0.60px) scaleX(0.9475);color:#dadada">May 26, 2025</div><div class="t" id="t4" style="left:358px;top:7px;font-size:12.0px;transform-origin:0 50%;transform:translate(0.10px,0.60px) scaleX(0.9271);color:#dadada">10:14 UTC</div><div class="t" id="t5" style="left:17px;top:34px;font-size:12.5px;transform-origin:0 50%;transform:translate(0.90px,0.50px) scaleX(0.8489);">US 100</div><div class="t" id="t6" style="left:57px;top:34px;font-size:12.5px;transform-origin:0 50%;transform:translate(0.20px,0.50px) scaleX(0.7191);font-weight:bold">·</div><div class="t" id="t7" style="left:65px;top:34px;font-size:12.5px;transform-origin:0 50%;transform:translate(0.00px,0.50px) scaleX(0.8989);">4h</div><div class="t" id="t8" style="left:82px;top:34px;font-size:12.5px;transform-origin:0 50%;transform:translate(0.30px,0.50px) scaleX(0.7191);font-weight:bold">·</div><div class="t" id="t9" style="left:89px;top:34px;font-size:12.5px;transform-origin:0 50%;transform:translate(0.50px,0.50px) scaleX(0.8302);">CAPITALCOM</div><div class="t" id="t10" style="left:162px;top:34px;font-size:12.5px;transform-origin:0 50%;transform:translate(0.80px,0.50px) scaleX(0.7396);">O</div><div class="t" id="t11" style="left:171px;top:34px;font-size:12.5px;transform-origin:0 50%;transform:translate(0.20px,0.50px) scaleX(0.9430);color:#089981">21,193.0</div><div class="t" id="t12" style="left:224px;top:34px;font-size:12.5px;transform-origin:0 50%;transform:translate(0.20px,0.50px) scaleX(0.7862);">H</div><div class="t" id="t13" style="left:232px;top:34px;font-size:12.5px;transform-origin:0 50%;transform:translate(0.50px,0.50px) scaleX(0.9266);color:#089981">21,209.8</div><div class="t" id="t14" style="left:285px;top:34px;font-size:12.5px;transform-origin:0 50%;transform:translate(0.20px,0.50px) scaleX(0.7191);">L</div><div class="t" id="t15" style="left:291px;top:34px;font-size:12.5px;transform-origin:0 50%;transform:translate(0.30px,0.50px) scaleX(0.9307);color:#089981">21,188.6</div><div class="t" id="t16" style="left:344px;top:34px;font-size:12.5px;transform-origin:0 50%;transform:translate(0.40px,0.50px) scaleX(0.7529);">C</div><div class="t" id="t17" style="left:352px;top:34px;font-size:12.5px;transform-origin:0 50%;transform:translate(0.20px,0.50px) scaleX(0.9266);color:#089981">21,205.0</div><div class="t" id="t18" style="left:405px;top:34px;font-size:12.5px;transform-origin:0 50%;transform:translate(0.00px,0.50px) scaleX(0.9165);color:#089981">+12.3</div><div class="t" id="t19" style="left:438px;top:34px;font-size:12.5px;transform-origin:0 50%;transform:translate(0.50px,0.50px) scaleX(0.8556);color:#089981">(+0.06%)</div><div class="t" id="t20" style="left:17px;top:51px;font-size:12.5px;transform-origin:0 50%;transform:translate(0.90px,0.20px) scaleX(0.9618);">Pivots (Fibonacci, Auto)</div><div class="t" id="t21" style="left:17px;top:67px;font-size:12.5px;transform-origin:0 50%;transform:translate(0.90px,0.90px) scaleX(0.9119);">SMA (200, close)</div><div class="t" id="t22" style="left:113px;top:67px;font-size:12.5px;transform-origin:0 50%;transform:translate(0.20px,0.90px) scaleX(0.9246);color:#f23645">19,718.8</div><div class="t" id="t23" style="left:17px;top:84px;font-size:12.5px;transform-origin:0 50%;transform:translate(0.90px,0.50px) scaleX(0.9258);">SMA (55, close):</div><div class="t" id="t24" style="left:106px;top:84px;font-size:12.5px;transform-origin:0 50%;transform:translate(0.70px,0.50px) scaleX(0.9861);">Calculation failed.</div><div class="t" id="t25" style="left:209px;top:84px;font-size:12.5px;transform-origin:0 50%;transform:translate(0.00px,0.50px) scaleX(0.9600);">Remove the script</div><div class="t" id="t26" style="left:309px;top:84px;font-size:12.5px;transform-origin:0 50%;transform:translate(0.20px,0.50px) scaleX(0.9872);">and reapply it</div><div class="t" id="t27" style="left:386px;top:84px;font-size:12.5px;transform-origin:0 50%;transform:translate(0.70px,0.50px) scaleX(1.0285);">to the chart.</div><div class="t" id="t28" style="left:17px;top:101px;font-size:12.5px;transform-origin:0 50%;transform:translate(0.90px,0.40px) scaleX(0.9204);">SMA (100, close):</div><div class="t" id="t29" style="left:112px;top:101px;font-size:12.5px;transform-origin:0 50%;transform:translate(0.70px,0.40px) scaleX(0.9861);">Calculation failed.</div><div class="t" id="t30" style="left:215px;top:101px;font-size:12.5px;transform-origin:0 50%;transform:translate(0.00px,0.40px) scaleX(0.9600);">Remove the script</div><div class="t" id="t31" style="left:315px;top:101px;font-size:12.5px;transform-origin:0 50%;transform:translate(0.20px,0.40px) scaleX(0.9872);">and reapply it</div><div class="t" id="t32" style="left:392px;top:101px;font-size:12.5px;transform-origin:0 50%;transform:translate(0.70px,0.40px) scaleX(1.0285);">to the chart.</div><div class="t" id="t33" style="left:1437px;top:37px;font-size:12.5px;transform-origin:0 50%;transform:translate(0.70px,0.30px) scaleX(0.7839);color:#c8c8c8">USD</div><div class="t" id="t34" style="left:1433px;top:75px;font-size:12.5px;transform-origin:0 50%;transform:translate(0.70px,0.80px) scaleX(0.9389);color:#bcbcbc">22,000.0</div><div class="t" id="t35" style="left:1433px;top:120px;font-size:12.5px;transform-origin:0 50%;transform:translate(0.70px,0.78px) scaleX(0.9389);color:#bcbcbc">21,600.0</div><div class="t" id="t36" style="left:1433px;top:210px;font-size:12.5px;transform-origin:0 50%;transform:translate(0.70px,0.74px) scaleX(0.9389);color:#bcbcbc">20,800.0</div><div class="t" id="t37" style="left:1433px;top:255px;font-size:12.5px;transform-origin:0 50%;transform:translate(0.70px,0.72px) scaleX(0.9389);color:#bcbcbc">20,400.0</div><div class="t" id="t38" style="left:1433px;top:300px;font-size:12.5px;transform-origin:0 50%;transform:translate(0.70px,0.70px) scaleX(0.9389);color:#bcbcbc">20,000.0</div><div class="t" id="t39" style="left:1433px;top:345px;font-size:12.5px;transform-origin:0 50%;transform:translate(0.70px,0.68px) scaleX(0.9389);color:#bcbcbc">19,600.0</div><div class="t" id="t40" style="left:1433px;top:390px;font-size:12.5px;transform-origin:0 50%;transform:translate(0.70px,0.66px) scaleX(0.9389);color:#bcbcbc">19,200.0</div><div class="t" id="t41" style="left:1433px;top:435px;font-size:12.5px;transform-origin:0 50%;transform:translate(0.70px,0.64px) scaleX(0.9389);color:#bcbcbc">18,800.0</div><div class="t" id="t42" style="left:1433px;top:480px;font-size:12.5px;transform-origin:0 50%;transform:translate(0.70px,0.62px) scaleX(0.9389);color:#bcbcbc">18,400.0</div><div class="t" id="t43" style="left:1433px;top:525px;font-size:12.5px;transform-origin:0 50%;transform:translate(0.70px,0.60px) scaleX(0.9389);color:#bcbcbc">18,000.0</div><div class="t" id="t44" style="left:1433px;top:570px;font-size:12.5px;transform-origin:0 50%;transform:translate(0.70px,0.58px) scaleX(0.9389);color:#bcbcbc">17,600.0</div><div class="t" id="t45" style="left:1433px;top:615px;font-size:12.5px;transform-origin:0 50%;transform:translate(0.70px,0.56px) scaleX(0.9389);color:#bcbcbc">17,200.0</div><div class="t" id="t46" style="left:1433px;top:660px;font-size:12.5px;transform-origin:0 50%;transform:translate(0.70px,0.54px) scaleX(0.9389);color:#bcbcbc">16,800.0</div><div class="t" id="t47" style="left:1433px;top:705px;font-size:12.5px;transform-origin:0 50%;transform:translate(0.70px,0.52px) scaleX(0.9389);color:#bcbcbc">16,400.0</div><div class="t" id="t48" style="left:1433px;top:750px;font-size:12.5px;transform-origin:0 50%;transform:translate(0.70px,0.50px) scaleX(0.9389);color:#bcbcbc">16,000.0</div><div style="position:absolute;left:1425.9px;top:165.3px;width:59.1px;height:30.6px;background:#089981;border-radius:1px 2.5px 2.5px 1px"></div><div style="position:absolute;left:1425.9px;top:332px;width:59.1px;height:16.7px;background:#f23645;border-radius:1px 2.5px 2.5px 1px"></div><div class="t" id="t51" style="left:1433px;top:166px;font-size:12.7px;transform-origin:0 50%;transform:translate(0.50px,0.20px) scaleX(0.9354);color:#fff">21,205.0</div><div class="t" id="t52" style="left:1433px;top:180px;font-size:12.5px;transform-origin:0 50%;transform:translate(0.70px,0.00px) scaleX(0.9389);color:#c6e8e1">03:45:57</div><div class="t" id="t53" style="left:1433px;top:333px;font-size:12.7px;transform-origin:0 50%;transform:translate(0.50px,0.60px) scaleX(0.9354);color:#fff">19,718.8</div><div class="t" id="t54" style="left:64px;top:790px;font-size:12.5px;transform-origin:0 50%;transform:translate(0.50px,0.30px) scaleX(0.8917);color:#bcbcbc">3</div><div class="t" id="t55" style="left:129px;top:790px;font-size:12.5px;transform-origin:0 50%;transform:translate(0.84px,0.30px) scaleX(0.8917);color:#bcbcbc">6</div><div class="t" id="t56" style="left:207px;top:790px;font-size:12.5px;transform-origin:0 50%;transform:translate(0.06px,0.30px) scaleX(0.8917);color:#bcbcbc">9</div><div class="t" id="t57" style="left:275px;top:790px;font-size:12.5px;transform-origin:0 50%;transform:translate(0.14px,0.30px) scaleX(0.9704);color:#bcbcbc">11</div><div class="t" id="t58" style="left:346px;top:790px;font-size:12.5px;transform-origin:0 50%;transform:translate(0.42px,0.30px) scaleX(0.9061);color:#bcbcbc">15</div><div class="t" id="t59" style="left:417px;top:790px;font-size:12.5px;transform-origin:0 50%;transform:translate(0.70px,0.30px) scaleX(0.9061);color:#bcbcbc">17</div><div class="t" id="t60" style="left:488px;top:790px;font-size:12.5px;transform-origin:0 50%;transform:translate(0.98px,0.30px) scaleX(0.9061);color:#bcbcbc">22</div><div class="t" id="t61" style="left:560px;top:790px;font-size:12.5px;transform-origin:0 50%;transform:translate(0.26px,0.30px) scaleX(0.9061);color:#bcbcbc">24</div><div class="t" id="t62" style="left:625px;top:790px;font-size:12.5px;transform-origin:0 50%;transform:translate(0.60px,0.30px) scaleX(0.9061);color:#bcbcbc">27</div><div class="t" id="t63" style="left:733px;top:790px;font-size:12.5px;transform-origin:0 50%;transform:translate(0.76px,0.30px) scaleX(0.9043);color:#bcbcbc;font-weight:bold">May</div><div class="t" id="t64" style="left:807px;top:790px;font-size:12.5px;transform-origin:0 50%;transform:translate(0.00px,0.30px) scaleX(0.8917);color:#bcbcbc">4</div><div class="t" id="t65" style="left:884px;top:790px;font-size:12.5px;transform-origin:0 50%;transform:translate(0.22px,0.30px) scaleX(0.8917);color:#bcbcbc">7</div><div class="t" id="t66" style="left:955px;top:790px;font-size:12.5px;transform-origin:0 50%;transform:translate(0.50px,0.30px) scaleX(0.8917);color:#bcbcbc">9</div><div class="t" id="t67" style="left:1023px;top:790px;font-size:12.5px;transform-origin:0 50%;transform:translate(0.58px,0.30px) scaleX(0.9061);color:#bcbcbc">13</div><div class="t" id="t68" style="left:1094px;top:790px;font-size:12.5px;transform-origin:0 50%;transform:translate(0.86px,0.30px) scaleX(0.9061);color:#bcbcbc">15</div><div class="t" id="t69" style="left:1160px;top:790px;font-size:12.5px;transform-origin:0 50%;transform:translate(0.20px,0.30px) scaleX(0.9061);color:#bcbcbc">18</div><div class="t" id="t70" style="left:1237px;top:790px;font-size:12.5px;transform-origin:0 50%;transform:translate(0.42px,0.30px) scaleX(0.9061);color:#bcbcbc">21</div><div class="t" id="t71" style="left:1308px;top:790px;font-size:12.5px;transform-origin:0 50%;transform:translate(0.70px,0.30px) scaleX(0.9061);color:#bcbcbc">23</div><div class="t" id="t72" style="left:1379px;top:790px;font-size:12.5px;transform-origin:0 50%;transform:translate(0.98px,0.30px) scaleX(0.9061);color:#bcbcbc">27</div><div class="t" id="t73" style="left:32px;top:821px;font-size:13.5px;transform-origin:0 50%;transform:translate(0.70px,0.80px) scaleX(0.9381);color:#d6d6d6">TradingView</div></div></body></html>
